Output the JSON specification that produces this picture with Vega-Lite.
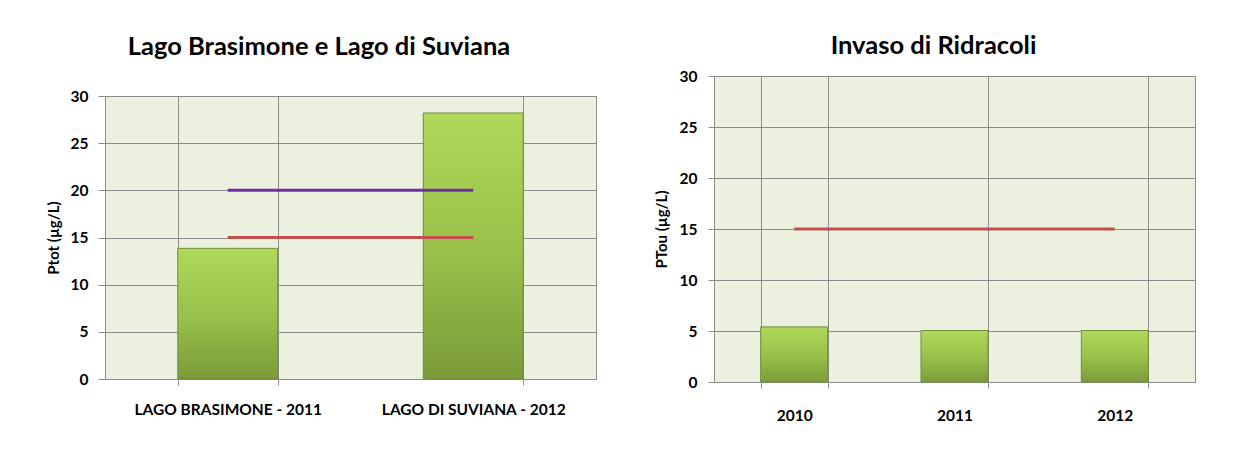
{
  "$schema": "https://vega.github.io/schema/vega-lite/v6.json",
  "background": "white",
  "padding": {"left": 45, "top": 33, "right": 10, "bottom": 5},
  "datasets": {
    "left": [
      {"lago": "LAGO BRASIMONE - 2011", "ptot": 13.85, "lim20": 20, "lim15": 15},
      {"lago": "LAGO DI SUVIANA - 2012", "ptot": 28.2, "lim20": 20, "lim15": 15}
    ],
    "right": [
      {"anno": "2010", "ptou": 5.4, "lim15": 15},
      {"anno": "2011", "ptou": 5.05, "lim15": 15},
      {"anno": "2012", "ptou": 5.05, "lim15": 15}
    ]
  },
  "config": {
    "font": "Lato",
    "view": {"fill": "#ebf1de", "stroke": "#8c8c8c", "strokeWidth": 1},
    "axis": {
      "labelFont": "Lato", "labelFontWeight": "bold", "labelFontSize": 15.5, "labelColor": "black", "labelLimit": 0,
      "titleFont": "Lato", "titleFontWeight": "bold", "titleFontSize": 15, "titleColor": "black",
      "gridColor": "#8c8c8c", "gridOpacity": 1, "gridWidth": 1,
      "domainColor": "#8c8c8c", "tickColor": "#8c8c8c", "tickWidth": 1
    },
    "title": {"font": "Lato", "fontSize": 25.5, "fontWeight": "bold", "color": "black", "anchor": "middle"}
  },
  "spacing": 56,
  "hconcat": [
    {
      "title": {"text": "Lago Brasimone e Lago di Suviana", "offset": 16, "frame": "bounds", "dx": -2},
      "spacing": 0,
      "vconcat": [
        {
          "width": 491, "height": 12,
          "data": {"values": []},
          "mark": {"type": "point", "opacity": 0},
          "view": {"fill": null, "stroke": null}
        },
        {
          "width": 491, "height": 283,
          "data": {"name": "left"},
          "encoding": {
            "x": {"field": "lago", "type": "nominal", "sort": null,
              "scale": {"paddingInner": 0.593, "paddingOuter": 0.2965},
              "axis": {"title": null, "labelAngle": 0, "tickBand": "extent", "grid": true, "tickSize": 6, "labelPadding": 17, "domain": false}}
          },
          "layer": [
            {"mark": {"type": "bar", "stroke": "#718c37", "strokeWidth": 1,
              "color": {"gradient": "linear", "x1": 0, "y1": 0, "x2": 0, "y2": 1,
                "stops": [{"offset": 0, "color": "#b0d85a"}, {"offset": 0.5, "color": "#9ac24b"}, {"offset": 1, "color": "#7b9b3a"}]}},
             "encoding": {"y": {"field": "ptot", "type": "quantitative", "scale": {"domain": [0, 30]},
               "axis": {"title": "Ptot (µg/L)", "values": [0, 5, 10, 15, 20, 25, 30], "tickSize": 7, "labelPadding": 10, "titlePadding": 9, "domain": false}}}},
            {"mark": {"type": "line", "color": "#7030a0", "strokeWidth": 3},
             "encoding": {"y": {"field": "lim20", "type": "quantitative"}}},
            {"mark": {"type": "line", "color": "#c0504d", "strokeWidth": 3},
             "encoding": {"y": {"field": "lim15", "type": "quantitative"}}}
          ]
        }
      ]
    },
    {
      "width": 481, "height": 306,
      "title": {"text": "Invaso di Ridracoli", "offset": 10, "frame": "group", "dx": -21},
      "data": {"name": "right"},
      "encoding": {
        "x": {"field": "anno", "type": "nominal", "sort": null,
          "scale": {"paddingInner": 0.582, "paddingOuter": 0.291},
          "axis": {"title": null, "labelAngle": 0, "tickBand": "extent", "grid": true, "tickSize": 6, "labelPadding": 20, "domain": false}}
      },
      "layer": [
        {"mark": {"type": "bar", "stroke": "#718c37", "strokeWidth": 1,
          "color": {"gradient": "linear", "x1": 0, "y1": 0, "x2": 0, "y2": 1,
            "stops": [{"offset": 0, "color": "#b0d85a"}, {"offset": 0.5, "color": "#9ac24b"}, {"offset": 1, "color": "#7b9b3a"}]}},
         "encoding": {"y": {"field": "ptou", "type": "quantitative", "scale": {"domain": [0, 30]},
           "axis": {"title": "PTou (µg/L)", "values": [0, 5, 10, 15, 20, 25, 30], "tickSize": 6, "labelPadding": 11, "titlePadding": 10, "domain": false}}}},
        {"mark": {"type": "line", "color": "#c0504d", "strokeWidth": 3},
         "encoding": {"y": {"field": "lim15", "type": "quantitative"}}}
      ]
    }
  ]
}
